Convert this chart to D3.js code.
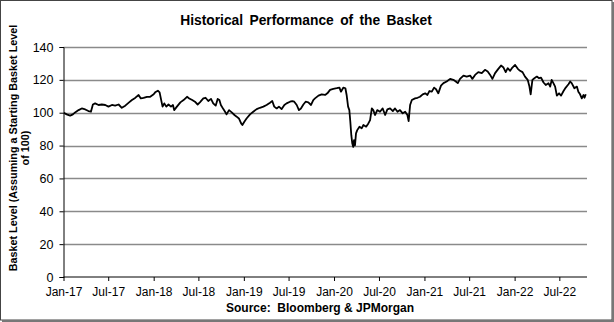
<!DOCTYPE html>
<html><head><meta charset="utf-8">
<script src="https://cdn.jsdelivr.net/npm/d3@7"></script>
<style>
html,body{margin:0;padding:0;background:#fff;}
svg{display:block;font-family:"Liberation Sans",Arial,sans-serif;}
</style></head>
<body>
<svg id="chart" width="614" height="322"></svg>
<script>
const titleText = "Historical Performance of the Basket";
const yLabelLines = ["Basket Level (Assuming a Starting Basket Level", "of 100)"];
const sourceText = "Source:  Bloomberg & JPMorgan";
const yTicks = [0, 20, 40, 60, 80, 100, 120, 140];
const xTickLabels = ["Jan-17","Jul-17","Jan-18","Jul-18","Jan-19","Jul-19","Jan-20","Jul-20","Jan-21","Jul-21","Jan-22","Jul-22"];
const xTickDates = ["2017-01-01","2017-07-01","2018-01-01","2018-07-01","2019-01-01","2019-07-01","2020-01-01","2020-07-01","2021-01-01","2021-07-01","2022-01-01","2022-07-01"];
const xDomain = ["2017-01-01","2022-10-21"];

const dates = [
"2017-01-02","2017-01-14","2017-01-28","2017-02-08","2017-02-17","2017-03-03","2017-03-16","2017-03-30","2017-04-12","2017-04-22",
"2017-04-30","2017-05-09","2017-05-23","2017-06-05","2017-06-19","2017-07-02","2017-07-16","2017-07-29","2017-08-12","2017-08-25",
"2017-09-08","2017-09-21","2017-10-05","2017-10-18","2017-11-01","2017-11-10","2017-11-21","2017-12-05","2017-12-18","2018-01-01",
"2018-01-07","2018-01-18","2018-01-25","2018-01-30","2018-02-06","2018-02-13","2018-02-21","2018-03-02","2018-03-12","2018-03-20",
"2018-03-25","2018-04-05","2018-04-19","2018-05-02","2018-05-16","2018-05-25","2018-06-06","2018-06-17","2018-06-28","2018-07-07",
"2018-07-21","2018-07-30","2018-08-10","2018-08-21","2018-08-30","2018-09-09","2018-09-17","2018-09-24","2018-09-30","2018-10-10",
"2018-10-17","2018-10-23","2018-11-02","2018-11-13","2018-11-24","2018-12-03","2018-12-12","2018-12-21","2018-12-26","2019-01-03",
"2019-01-12","2019-01-26","2019-02-08","2019-02-22","2019-03-07","2019-03-21","2019-04-03","2019-04-17","2019-04-26","2019-05-04",
"2019-05-14","2019-05-23","2019-06-03","2019-06-14","2019-06-23","2019-07-07","2019-07-16","2019-07-24","2019-08-03","2019-08-12",
"2019-08-20","2019-08-30","2019-09-08","2019-09-19","2019-09-30","2019-10-09","2019-10-16","2019-10-30","2019-11-12","2019-11-26",
"2019-12-05","2019-12-16","2019-12-29","2020-01-12","2020-01-23","2020-01-29","2020-02-08","2020-02-16","2020-02-21","2020-02-27",
"2020-03-03","2020-03-07","2020-03-11","2020-03-15","2020-03-19","2020-03-22","2020-03-26","2020-03-30","2020-04-04","2020-04-13",
"2020-04-22","2020-04-29","2020-05-10","2020-05-19","2020-05-26","2020-06-02","2020-06-08","2020-06-15","2020-06-24","2020-07-05",
"2020-07-16","2020-07-26","2020-08-04","2020-08-15","2020-08-26","2020-09-04","2020-09-14","2020-09-24","2020-10-05","2020-10-15",
"2020-10-24","2020-10-29","2020-11-04","2020-11-11","2020-11-24","2020-12-04","2020-12-14","2020-12-25","2021-01-04","2021-01-13",
"2021-01-21","2021-01-31","2021-02-09","2021-02-17","2021-02-26","2021-03-09","2021-03-19","2021-04-01","2021-04-15","2021-04-28",
"2021-05-08","2021-05-16","2021-05-25","2021-06-08","2021-06-21","2021-07-05","2021-07-14","2021-07-25","2021-08-07","2021-08-21",
"2021-09-03","2021-09-14","2021-09-24","2021-10-03","2021-10-14","2021-10-27","2021-11-07","2021-11-17","2021-11-26","2021-12-04",
"2021-12-14","2021-12-23","2022-01-03","2022-01-14","2022-01-23","2022-02-02","2022-02-12","2022-02-23","2022-03-02","2022-03-07",
"2022-03-14","2022-03-22","2022-04-01","2022-04-10","2022-04-18","2022-04-28","2022-05-07","2022-05-18","2022-05-25","2022-05-31",
"2022-06-07","2022-06-14","2022-06-21","2022-06-30","2022-07-08","2022-07-18","2022-07-27","2022-08-07","2022-08-14","2022-08-20",
"2022-08-31","2022-09-10","2022-09-16","2022-09-23","2022-09-30","2022-10-07","2022-10-11","2022-10-16"
];
const values = [
100.0, 99.0, 98.2, 99.0, 100.2, 101.6, 102.6, 102.0, 101.0, 100.6,
105.0, 105.7, 104.7, 105.0, 104.7, 103.7, 104.7, 104.3, 105.0, 103.0,
104.3, 106.0, 107.7, 109.0, 110.8, 108.7, 109.0, 109.7, 109.7, 111.2,
112.4, 113.4, 112.4, 108.7, 103.7, 105.7, 103.7, 105.0, 103.7, 104.7,
101.6, 103.7, 106.3, 107.7, 109.7, 108.7, 107.7, 106.7, 105.0, 106.3,
108.7, 109.1, 107.1, 108.4, 105.7, 104.3, 108.4, 107.7, 104.7, 102.2,
100.6, 99.0, 101.6, 100.2, 98.6, 97.6, 96.5, 93.5, 92.5, 94.5,
96.5, 99.0, 100.6, 102.2, 103.0, 103.7, 104.7, 106.1, 107.1, 103.7,
102.6, 103.7, 102.2, 104.7, 105.7, 106.7, 107.1, 106.7, 104.7, 101.6,
102.6, 105.0, 106.7, 106.3, 104.7, 107.7, 108.7, 110.4, 111.2, 110.8,
111.8, 113.9, 114.5, 114.9, 115.3, 112.8, 115.3, 114.9, 110.8, 103.7,
101.6, 94.5, 86.3, 81.2, 79.2, 83.3, 80.2, 87.4, 89.4, 91.5,
90.5, 92.5, 91.5, 93.5, 95.5, 102.6, 101.6, 98.6, 101.6, 100.6,
102.6, 98.6, 102.0, 102.6, 101.0, 102.6, 100.6, 101.6, 99.6, 100.6,
98.6, 94.9, 104.7, 107.7, 108.7, 109.1, 109.7, 111.2, 111.8, 110.8,
113.2, 112.8, 115.3, 114.3, 111.8, 116.5, 118.0, 119.0, 120.6, 120.0,
119.0, 118.0, 120.6, 122.6, 122.0, 122.6, 120.6, 123.0, 124.7, 124.1,
126.1, 125.1, 123.0, 120.6, 124.1, 126.7, 128.7, 127.5, 124.7, 127.1,
125.5, 127.5, 129.1, 126.7, 125.5, 124.7, 122.0, 120.0, 115.9, 111.2,
120.0, 121.0, 122.0, 121.0, 121.4, 118.4, 116.9, 118.0, 115.9, 120.0,
118.0, 115.9, 110.4, 111.8, 110.4, 113.2, 115.3, 117.3, 119.0, 118.0,
114.9, 115.9, 112.8, 111.2, 108.7, 110.8, 109.1, 111.2
];

const parse = d3.timeParse("%Y-%m-%d");
const data = dates.map((d, i) => ({date: parse(d), value: values[i]}));

const svg = d3.select("#chart");
const W = 614, H = 322;
const plot = {left: 63.5, right: 587, top: 47, bottom: 277};

// border with shadow
svg.append("rect").attr("x", 0.5).attr("y", 0.5).attr("width", W - 2.5).attr("height", H - 2.5)
  .attr("fill", "#fff").attr("stroke", "#444").attr("stroke-width", 1);
svg.append("line").attr("x1", W - 1).attr("x2", W - 1).attr("y1", 2).attr("y2", H).attr("stroke", "#777").attr("stroke-width", 2);
svg.append("line").attr("x1", 2).attr("x2", W).attr("y1", H - 1).attr("y2", H - 1).attr("stroke", "#777").attr("stroke-width", 2);

const x = d3.scaleTime().domain(xDomain.map(parse)).range([plot.left, plot.right]);
const y = d3.scaleLinear().domain([0, 140]).range([plot.bottom, plot.top]);

// gridlines
svg.append("g").selectAll("line").data(yTicks.filter(t => t > 0)).join("line")
  .attr("x1", plot.left).attr("x2", plot.right)
  .attr("y1", d => Math.round(y(d)) + 0.5).attr("y2", d => Math.round(y(d)) + 0.5)
  .attr("stroke", "#8a8a8a").attr("stroke-width", 1.3);

// y axis
const yAxis = d3.axisLeft(y).tickValues(yTicks).tickSize(4).tickPadding(6).tickFormat(d3.format("d"));
const gy = svg.append("g").attr("transform", `translate(${plot.left},0)`).call(yAxis);
gy.select(".domain").attr("stroke", "#000");
gy.selectAll(".tick line").attr("stroke", "#000");
gy.selectAll("text").attr("font-size", 12.5).attr("fill", "#000").attr("font-family", "Liberation Sans, Arial, sans-serif");

// x axis
const xAxis = d3.axisBottom(x).tickValues(xTickDates.map(parse)).tickSize(4).tickPadding(6)
  .tickFormat((d, i) => xTickLabels[i]);
const gx = svg.append("g").attr("transform", `translate(0,${plot.bottom})`).call(xAxis);
gx.select(".domain").attr("stroke", "#000").attr("d", `M${plot.left},0H${plot.right}`);
gx.selectAll(".tick line").attr("stroke", "#000");
gx.selectAll("text").attr("font-size", 12).attr("fill", "#000").attr("font-family", "Liberation Sans, Arial, sans-serif");

// line
const line = d3.line().x(d => x(d.date)).y(d => y(d.value));
svg.append("path").datum(data).attr("d", line).attr("fill", "none")
  .attr("stroke", "#000").attr("stroke-width", 1.8).attr("stroke-linejoin", "round");

// title
svg.append("text").attr("x", 306).attr("y", 25).attr("text-anchor", "middle")
  .attr("font-size", 13.8).attr("font-weight", "bold").attr("word-spacing", 2.5).text(titleText);

// y label
const yl = svg.append("text").attr("transform", "translate(17,148) rotate(-90)")
  .attr("text-anchor", "middle").attr("font-size", 10.8).attr("font-weight", "bold");
yl.append("tspan").attr("x", 0).attr("y", 0).text(yLabelLines[0]);
yl.append("tspan").attr("x", 0).attr("y", 12).text(yLabelLines[1]);

// source
svg.append("text").attr("x", 320).attr("y", 312).attr("text-anchor", "middle")
  .attr("font-size", 12).attr("font-weight", "bold").style("white-space", "pre").text(sourceText);
</script>
</body></html>
